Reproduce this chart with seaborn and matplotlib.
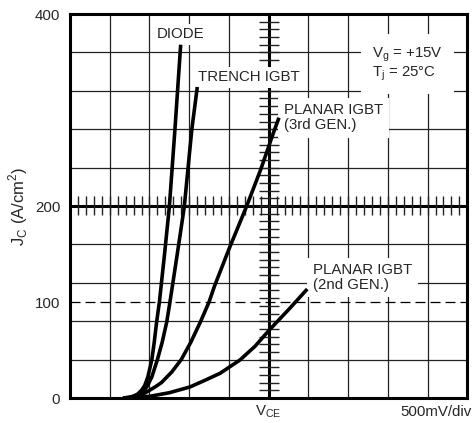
import numpy as np
import pandas as pd
import seaborn as sns
import matplotlib.pyplot as plt

# curves: V_CE in volts (500 mV/div), J_C in A/cm2
diode_v = [0.667, 0.74, 0.80, 0.85, 0.90, 0.94, 0.98, 1.03, 1.06, 1.09, 1.125, 1.19, 1.25, 1.32, 1.393]
diode_j = [0, 0.5, 2, 4, 8, 13, 22, 40, 58, 79, 100, 150, 199, 279, 368]

trench_v = [0.667, 0.75, 0.82, 0.88, 0.93, 0.97, 1.03, 1.10, 1.16, 1.217, 1.258, 1.35, 1.438, 1.532, 1.602]
trench_j = [0, 0.5, 2, 4.5, 8, 12, 22, 40, 58, 79, 100, 150, 199, 279, 324]

planar3_v = [0.667, 0.76, 0.85, 0.93, 1.0, 1.08, 1.15, 1.28, 1.40, 1.52, 1.64, 1.75, 1.816, 2.0, 2.224, 2.40, 2.559, 2.630]
planar3_j = [0, 0.8, 2, 4.5, 8, 12, 16, 27, 40, 58, 79, 100, 116, 155, 200, 238, 276, 292]

planar2_v = [0.667, 0.85, 1.007, 1.25, 1.51, 1.70, 1.888, 2.139, 2.33, 2.508, 2.75, 2.986]
planar2_j = [0, 0.6, 1.8, 5.5, 11.5, 18.5, 25.7, 39.6, 54, 70.8, 92, 113.5]

ytick_vals = [0, 100, 200, 400]
ytick_labels = ["0", "100", "200", "400"]

sns.set_style("white")
plt.rcParams["font.family"] = ["Liberation Sans", "DejaVu Sans"]
plt.rcParams["mathtext.fontset"] = "custom"
plt.rcParams["mathtext.rm"] = "Liberation Sans"
FS = 10.8

fig = plt.figure(figsize=(4.74, 4.23), dpi=100)
ax = fig.add_axes([70 / 474, 1 - 398 / 423, 397.3 / 474, 384 / 423])

ax.set_xlim(0, 5)
ax.set_ylim(0, 400)

# scope graticule
ax.set_xticks(np.arange(0, 5.01, 0.5), minor=True)
ax.set_yticks(np.arange(0, 401, 40), minor=True)
ax.grid(which="minor", color="#222222", lw=0.9, zorder=0)
ax.set_xticks([])
ax.set_yticks(ytick_vals)
ax.set_yticklabels(ytick_labels, fontsize=FS)
ax.tick_params(axis="y", which="both", length=0, pad=7)
ax.tick_params(axis="x", which="minor", length=0)
for s in ax.spines.values():
    s.set_linewidth(2.2)
    s.set_color("black")

# centre axes with sub-division ticks
ax.axhline(200, color="black", lw=2.2, zorder=1)
ax.axvline(2.5, color="black", lw=2.2, zorder=1)
ax.vlines(np.arange(0.1, 5, 0.1), 191, 210, color="#222222", lw=1.0, zorder=1)
ax.hlines(np.arange(8, 400, 8), 2.374, 2.626, color="#222222", lw=1.0, zorder=1)
ax.axhline(100, color="black", lw=0.9, ls=(0, (8, 4)), zorder=1)

curves = [(diode_v, diode_j), (trench_v, trench_j),
          (planar3_v, planar3_j), (planar2_v, planar2_j)]
for v, j in curves:
    df = pd.DataFrame({"v": v, "j": j})
    sns.lineplot(data=df, x="v", y="j", ax=ax, color="black", lw=2.6,
                 sort=False, estimator=None, zorder=5,
                 solid_capstyle="butt", solid_joinstyle="round")
ax.set_xlabel("")
ax.set_ylabel("")

box = dict(facecolor="white", edgecolor="none", pad=2.5)
ax.text(1.095, 379, "DIODE", fontsize=FS, va="center", ha="left", bbox=box, zorder=3)
ax.text(1.611, 334, "TRENCH IGBT", fontsize=FS, va="center", ha="left", bbox=box, zorder=3)
ax.text(2.693, 292, "PLANAR IGBT\n(3rd GEN.)", fontsize=FS, va="center", ha="left",
        linespacing=1.05, bbox=dict(facecolor="white", edgecolor="none", pad=4), zorder=3)
ax.text(3.058, 125.5, "PLANAR IGBT\n(2nd GEN.)", fontsize=FS, va="center", ha="left",
        linespacing=1.05, bbox=dict(facecolor="white", edgecolor="none", pad=4), zorder=3)
ax.text(3.80, 348, "V$_\\mathregular{g}$ = +15V\nT$_\\mathregular{j}$ = 25°C", fontsize=FS,
        va="center", ha="left", linespacing=1.0,
        bbox=dict(facecolor="white", edgecolor="none", pad=8), zorder=3)

ax.text(2.49, -17.7, "V$_\\mathregular{CE}$", fontsize=FS, va="baseline", ha="center", clip_on=False)
ax.text(5.06, -18.7, "500mV/div", fontsize=FS, va="baseline", ha="right", clip_on=False)
fig.text(18 / 474, 1 - 206 / 423, "J$_\\mathregular{C}$ (A/cm$^\\mathregular{2}$)", fontsize=12,
         rotation=90, va="center", ha="center")

fig.savefig("out.png", dpi=100)
